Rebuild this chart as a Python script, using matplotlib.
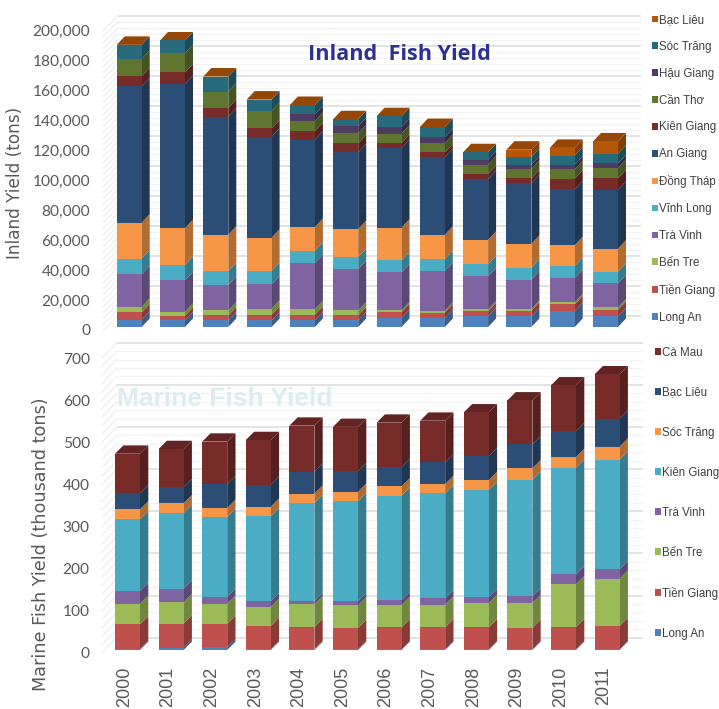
import matplotlib
matplotlib.use('Agg')
import matplotlib.pyplot as plt
from matplotlib.colors import to_rgb
from matplotlib.patches import Patch, Polygon
from matplotlib.transforms import ScaledTranslation

W, H = 719, 709
DPI = 100

years = ['2000', '2001', '2002', '2003', '2004', '2005',
         '2006', '2007', '2008', '2009', '2010', '2011']

# inland yield, thousand tons (bottom to top of the stack)
long_an = [4.9, 4.4, 4.4, 4.4, 4.4, 4.4, 6.0, 6.0, 7.1, 7.1, 10.7, 7.1]
tien_giang = [4.9, 3.1, 3.3, 3.8, 3.8, 3.3, 3.8, 3.6, 3.3, 3.6, 4.4, 4.4]
ben_tre = [3.6, 2.7, 3.3, 4.0, 3.6, 3.3, 1.3, 1.3, 1.3, 1.3, 1.3, 1.6]
tra_vinh = [21.8, 20.9, 17.1, 16.2, 30.9, 27.6, 25.3, 26.4, 22.2, 19.6, 16.2, 16.0]
vinh_long = [10.4, 10.4, 9.1, 8.9, 8.2, 8.0, 8.0, 8.0, 7.8, 8.0, 8.0, 7.8]
dong_thap = [24.0, 24.4, 24.4, 22.2, 15.8, 18.7, 21.8, 16.2, 16.4, 15.8, 14.0, 15.3]
an_giang = [90.9, 96.2, 78.7, 67.3, 58.2, 51.1, 53.1, 51.8, 40.7, 40.4, 37.3, 39.3]
kien_giang = [6.7, 7.6, 5.8, 5.6, 5.8, 6.0, 3.3, 3.1, 3.3, 3.3, 7.1, 7.8]
can_tho = [11.6, 12.9, 10.9, 11.6, 6.7, 6.7, 6.4, 6.2, 6.2, 6.2, 6.2, 6.7]
hau_giang = [0, 0, 0, 0, 4.4, 4.7, 4.2, 4.0, 3.3, 2.9, 3.1, 3.1]
soc_trang = [9.3, 8.4, 10.0, 7.6, 6.2, 4.7, 7.3, 6.7, 4.9, 5.1, 6.0, 6.4]
bac_lieu = [0, 0, 0, 0, 0, 0, 0, 0, 0, 4.9, 5.1, 8.2]

# marine yield, thousand tons
m_long_an = [2.4, 5.5, 6.3, 2.4, 2.4, 1.6, 1.6, 1.6, 1.6, 1.6, 1.6, 1.6]
m_tien_giang = [58.5, 57.0, 56.2, 54.6, 52.2, 50.6, 52.2, 52.2, 52.2, 50.6, 53.0, 55.4]
m_ben_tre = [48.3, 50.6, 47.5, 45.1, 53.8, 53.8, 53.0, 53.8, 57.8, 59.3, 101.3, 112.3]
m_tra_vinh = [31.6, 32.4, 15.8, 14.2, 7.9, 9.5, 11.9, 15.0, 14.2, 15.8, 23.7, 22.2]
m_kien_giang = [169.3, 179.6, 189.9, 201.7, 232.6, 238.1, 247.6, 249.2, 254.0, 276.9, 253.2, 260.3]
m_soc_trang = [23.7, 22.9, 21.4, 22.2, 22.2, 22.2, 22.2, 22.2, 23.7, 26.9, 25.3, 30.9]
m_bac_lieu = [38.0, 38.8, 56.2, 52.2, 52.2, 48.3, 45.9, 51.4, 57.0, 57.0, 60.9, 66.5]
m_ca_mau = [94.1, 90.2, 101.3, 106.0, 109.2, 105.5, 105.2, 98.9, 103.6, 104.4, 109.2, 105.2]

inland_names = ['Long An', 'Tiền Giang', 'Bến Tre', 'Trà Vinh', 'Vĩnh Long', 'Đồng Tháp',
                'An Giang', 'Kiên Giang', 'Cần Thơ', 'Hậu Giang', 'Sóc Trăng', 'Bạc Liêu']
inland_series = [long_an, tien_giang, ben_tre, tra_vinh, vinh_long, dong_thap,
                 an_giang, kien_giang, can_tho, hau_giang, soc_trang, bac_lieu]
inland_colors = ['#4F81BD', '#C0504D', '#9BBB59', '#8064A2', '#4BACC6', '#F79646',
                 '#2C4D75', '#772C2A', '#5F7530', '#4D3B62', '#276A7C', '#B65708']

marine_names = ['Long An', 'Tiền Giang', 'Bến Tre', 'Trà Vinh', 'Kiên Giang',
                'Sóc Trăng', 'Bạc Liêu', 'Cà Mau']
marine_series = [m_long_an, m_tien_giang, m_ben_tre, m_tra_vinh, m_kien_giang,
                 m_soc_trang, m_bac_lieu, m_ca_mau]
marine_colors = ['#4F81BD', '#C0504D', '#9BBB59', '#8064A2', '#4BACC6',
                 '#F79646', '#2C4D75', '#772C2A']

GRAY = '#595959'
plt.rcParams['font.family'] = ['Lato', 'DejaVu Sans']


def darker(color, k):
    return tuple(c * k for c in to_rgb(color))


def px_offset(dx, dy):
    return ScaledTranslation(dx / DPI, dy / DPI, fig.dpi_scale_trans)


def draw_panel(ax_box, series, colors, ymax, major, minor, depth, back, wall, grid_right):
    # ax_box: first bar centre px, bar step px, baseline px, px per unit
    c0, step, base, scale = ax_box
    n = len(years)
    left = c0 - step / 2
    right = c0 + step * (n - 0.5)
    top = base - scale * ymax
    ax = fig.add_axes([left / W, 1 - base / H, (right - left) / W, (base - top) / H])
    ax.set_xlim(-0.5, n - 0.5)
    ax.set_ylim(0, ymax)
    ax.patch.set_alpha(0)
    for s in ax.spines.values():
        s.set_visible(False)

    # back wall and left wall gridlines
    back_tr = ax.transData + px_offset(back[0], back[1])
    x_end = (grid_right - back[0] - left) / step - 0.5
    v = 0
    while v <= ymax:
        is_major = v % major == 0
        col = '#DEDEDE' if is_major else '#F3F3F3'
        lw = 1.2 if is_major else 0.9
        ax.plot([-0.5, x_end], [v, v], color=col, lw=lw, transform=back_tr,
                clip_on=False, zorder=1)
        ax.plot([-0.5 - wall[0] / step, -0.5],
                [v - wall[1] / scale, v], color='#EFEFEF', lw=0.9, transform=back_tr,
                clip_on=False, zorder=1)
        v += minor

    # stacked bars with a side and a top face to look 3d
    width = 25 / step
    ddx = depth[0] / step
    ddy = depth[1] / scale
    bottoms = [0] * n
    for vals, col in zip(series, colors):
        ax.bar(range(n), vals, width, bottom=bottoms, color=col, linewidth=0, zorder=3)
        for i in range(n):
            if vals[i] <= 0:
                continue
            xr = i + width / 2
            y0 = bottoms[i]
            y1 = y0 + vals[i]
            ax.add_patch(Polygon([(xr, y0), (xr + ddx, y0 + ddy), (xr + ddx, y1 + ddy), (xr, y1)],
                                 closed=True, fc=darker(col, 0.72), ec='none', zorder=2.5, clip_on=False))
        bottoms = [b + t for b, t in zip(bottoms, vals)]
    top_col = darker(colors[-1], 0.82)
    for i in range(n):
        xl, xr = i - width / 2, i + width / 2
        y = bottoms[i]
        ax.add_patch(Polygon([(xl, y), (xr, y), (xr + ddx, y + ddy), (xl + ddx, y + ddy)],
                             closed=True, fc=top_col, ec='none', zorder=2.5, clip_on=False))
    return ax


fig = plt.figure(figsize=(W / DPI, H / DPI), dpi=DPI, facecolor='white')

# inland panel
ax1 = draw_panel((129.2, 43.3, 327, 1.5), inland_series, inland_colors,
                 200, 20, 4, (8, 8.5), (10.5, 11.3), (15, 15), 640)
ax1.set_xticks([])
yt = list(range(0, 201, 20))
ax1.set_yticks(yt)
ax1.set_yticklabels([f'{t * 1000:,}' for t in yt], fontsize=11.2, color=GRAY)
ax1.tick_params(axis='y', length=0, pad=12.5)
for lab in ax1.get_yticklabels():
    lab.set_transform(lab.get_transform() + px_offset(0, -3))

# marine panel
ax2 = draw_panel((127.5, 43.6, 650, 0.4213), marine_series, marine_colors,
                 700, 100, 20, (8.3, 8.3), (11, 12.3), (15, 15.6), 641.7)
yt2 = list(range(0, 701, 100))
ax2.set_yticks(yt2)
ax2.set_yticklabels([str(t) for t in yt2], fontsize=11.2, color=GRAY)
ax2.tick_params(axis='y', length=0, pad=11.5)
for lab in ax2.get_yticklabels():
    lab.set_transform(lab.get_transform() + px_offset(0, -3))
ax2.set_xticks(range(len(years)))
ax2.set_xticklabels(years, rotation=90, fontsize=13, color=GRAY, family='Liberation Sans')
ax2.tick_params(axis='x', length=0, pad=12)
for lab in ax2.get_xticklabels():
    lab.set_transform(lab.get_transform() + px_offset(-3, 0))


def add_legend(names, colors, x_px, y_px, spacing):
    handles = [Patch(fc=c, ec='none', label=nm) for nm, c in zip(names, colors)][::-1]
    leg = fig.legend(handles=handles, loc='upper left', bbox_to_anchor=(x_px / W, 1 - y_px / H),
                     frameon=False, handlelength=0.5, handleheight=0.5,
                     handletextpad=0.12, labelspacing=spacing, borderpad=0, borderaxespad=0,
                     prop={'family': 'Liberation Sans', 'size': 8.3})
    for t in leg.get_texts():
        t.set_color('#404040')


add_legend(inland_names, inland_colors, 652, 14, 1.29)
add_legend(marine_names, marine_colors, 655, 346.5, 2.43)

# chart titles and axis titles
fig.text(399 / W, 1 - 55 / H, 'Inland  Fish Yield', color='#2E3192', fontsize=15.6,
         fontweight='bold', family='Open Sans', ha='center', va='center')
fig.text(225 / W, 1 - 399 / H, 'Marine Fish Yield', color='#DCEDF0', fontsize=19,
         fontweight='bold', family='Liberation Sans', ha='center', va='center')
fig.text(15 / W, 1 - 183 / H, 'Inland Yield (tons)', color=GRAY, fontsize=12.2,
         family='DejaVu Sans', rotation=90, ha='center', va='center')
fig.text(41 / W, 1 - 544 / H, 'Marine Fish Yield (thousand tons)', color=GRAY, fontsize=12.7,
         family='DejaVu Sans', rotation=90, ha='center', va='center')

fig.savefig('out.png', dpi=DPI)
